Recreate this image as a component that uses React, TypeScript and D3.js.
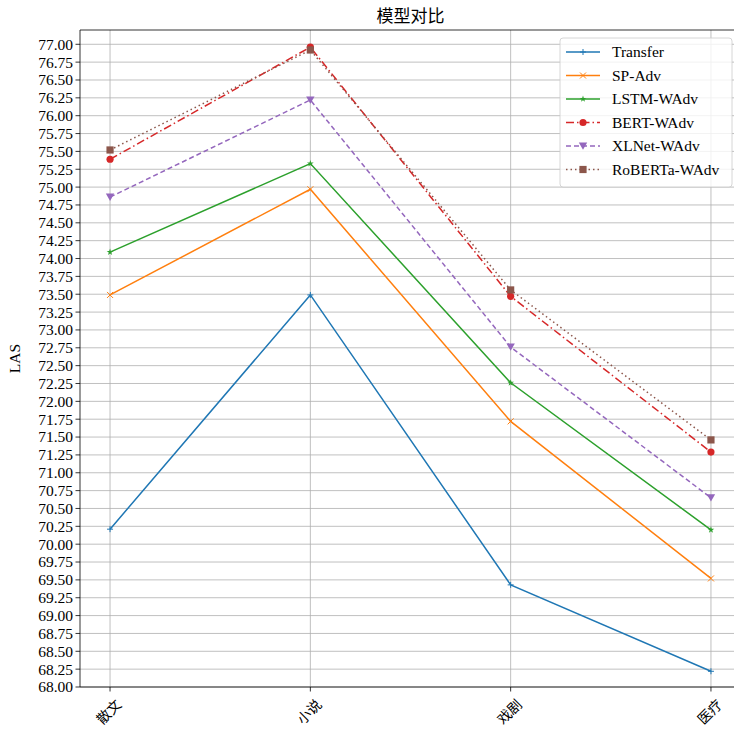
import React from 'react';
import * as d3 from 'd3';

// categories on the x axis
const categories = ['散文', '小说', '戏剧', '医疗'];

// LAS per model
const transfer = [70.21, 73.49, 69.43, 68.22];
const spAdv = [73.49, 74.97, 71.72, 69.52];
const lstmWAdv = [74.09, 75.33, 72.26, 70.2];
const bertWAdv = [75.39, 76.96, 73.47, 71.29];
const xlnetWAdv = [74.86, 76.22, 72.76, 70.65];
const robertaWAdv = [75.52, 76.92, 73.56, 71.46];

const seriesNames = ['Transfer', 'SP-Adv', 'LSTM-WAdv', 'BERT-WAdv', 'XLNet-WAdv', 'RoBERTa-WAdv'];
const seriesValues = [transfer, spAdv, lstmWAdv, bertWAdv, xlnetWAdv, robertaWAdv];

const yTicks = d3.range(0, 37).map(i => 68 + i * 0.25);

const colors = ['#1f77b4', '#ff7f0e', '#2ca02c', '#d62728', '#9467bd', '#8c564b'];
const dashes = ['', '', '', '8,3,1.5,3', '5,3', '1.5,3'];
const markers = ['plus', 'x', 'star', 'circle', 'tri', 'square'];

const W = 734;
const H = 731;
const margin = { top: 30, left: 80, bottom: 44 };
const plotRight = 741;
const FONT = '"Liberation Serif", "DejaVu Serif", serif';

const Marker = ({ kind, x, y, color }: { kind: string; x: number; y: number; color: string }) => {
  if (kind === 'plus')
    return <path d={`M${x - 3},${y}H${x + 3}M${x},${y - 3}V${y + 3}`} stroke={color} strokeWidth={1} />;
  if (kind === 'x')
    return <path d={`M${x - 3},${y - 3}L${x + 3},${y + 3}M${x - 3},${y + 3}L${x + 3},${y - 3}`} stroke={color} strokeWidth={1} />;
  if (kind === 'star')
    return <path d={d3.symbol(d3.symbolStar, 14)() || ''} transform={`translate(${x},${y})`} fill={color} />;
  if (kind === 'circle') return <circle cx={x} cy={y} r={3.6} fill={color} />;
  if (kind === 'tri')
    return <path d={`M${x - 4.2},${y - 3.6}L${x + 4.2},${y - 3.6}L${x},${y + 3.8}Z`} fill={color} />;
  return <rect x={x - 3.6} y={y - 3.6} width={7.2} height={7.2} fill={color} />;
};

const App = () => {
  const x = d3.scaleLinear().domain([-0.15, 3.15]).range([margin.left, plotRight]);
  const y = d3.scaleLinear().domain([68, 77.2]).range([H - margin.bottom, margin.top]);
  const line = d3
    .line<number>()
    .x((_, i) => x(i))
    .y(d => y(d));

  const legendX = 560;
  const legendY = 38;
  const rowH = 23.5;

  return (
    <svg width={W} height={H} style={{ position: 'absolute', left: 0, top: 0, background: '#fff' }} fontFamily={FONT}>
      <rect width={W} height={H} fill="#fff" />
      {/* grid */}
      {yTicks.map(t => (
        <line key={t} x1={margin.left} x2={plotRight} y1={y(t)} y2={y(t)} stroke="#b0b0b0" strokeWidth={0.8} />
      ))}
      {categories.map((c, i) => (
        <line key={c} x1={x(i)} x2={x(i)} y1={margin.top} y2={H - margin.bottom} stroke="#b0b0b0" strokeWidth={0.8} />
      ))}
      {/* series */}
      {seriesValues.map((vals, si) => (
        <g key={seriesNames[si]}>
          <path d={line(vals) || ''} fill="none" stroke={colors[si]} strokeWidth={1.5} strokeDasharray={dashes[si]} />
          {vals.map((v, i) => (
            <Marker key={i} kind={markers[si]} x={x(i)} y={y(v)} color={colors[si]} />
          ))}
        </g>
      ))}
      {/* spines */}
      <line x1={margin.left} x2={plotRight} y1={margin.top} y2={margin.top} stroke="#000" strokeWidth={0.8} />
      <line x1={margin.left} x2={plotRight} y1={H - margin.bottom} y2={H - margin.bottom} stroke="#000" strokeWidth={0.8} />
      <line x1={margin.left} x2={margin.left} y1={margin.top} y2={H - margin.bottom} stroke="#000" strokeWidth={0.8} />
      {/* y axis */}
      {yTicks.map(t => (
        <g key={t} transform={`translate(${margin.left},${y(t)})`}>
          <line x1={-4.5} x2={0} stroke="#000" strokeWidth={0.8} />
          <text x={-7} dy="0.35em" textAnchor="end" fontSize={15.5} fill="#000">
            {d3.format('.2f')(t)}
          </text>
        </g>
      ))}
      <text transform={`translate(20,${(margin.top + H - margin.bottom) / 2}) rotate(-90)`} textAnchor="middle" fontSize={15.5}>
        LAS
      </text>
      {/* x axis */}
      {categories.map((c, i) => (
        <g key={c} transform={`translate(${x(i)},${H - margin.bottom})`}>
          <line y1={0} y2={4.5} stroke="#000" strokeWidth={0.8} />
          <text
            transform="translate(-1,25) rotate(-45)"
            textAnchor="middle"
            dy="0.35em"
            fontSize={14}
            fontFamily='"Noto Sans CJK SC", sans-serif'
          >
            {c}
          </text>
        </g>
      ))}
      {/* title */}
      <text x={(margin.left + plotRight) / 2} y={22} textAnchor="middle" fontSize={17} fontFamily='"Noto Sans CJK SC", sans-serif'>
        模型对比
      </text>
      {/* legend */}
      <g transform={`translate(${legendX},${legendY})`}>
        <rect x={0} y={0} width={172} height={149} rx={3} fill="#fff" fillOpacity={0.8} stroke="#cccccc" strokeWidth={0.8} />
        {seriesNames.map((n, si) => {
          const cy = 14 + si * rowH;
          return (
            <g key={n}>
              <line x1={6} x2={40} y1={cy} y2={cy} stroke={colors[si]} strokeWidth={1.5} strokeDasharray={dashes[si]} />
              <Marker kind={markers[si]} x={23} y={cy} color={colors[si]} />
              <text x={52} y={cy} dy="0.35em" fontSize={15.5}>
                {n}
              </text>
            </g>
          );
        })}
      </g>
    </svg>
  );
};

export default App;
